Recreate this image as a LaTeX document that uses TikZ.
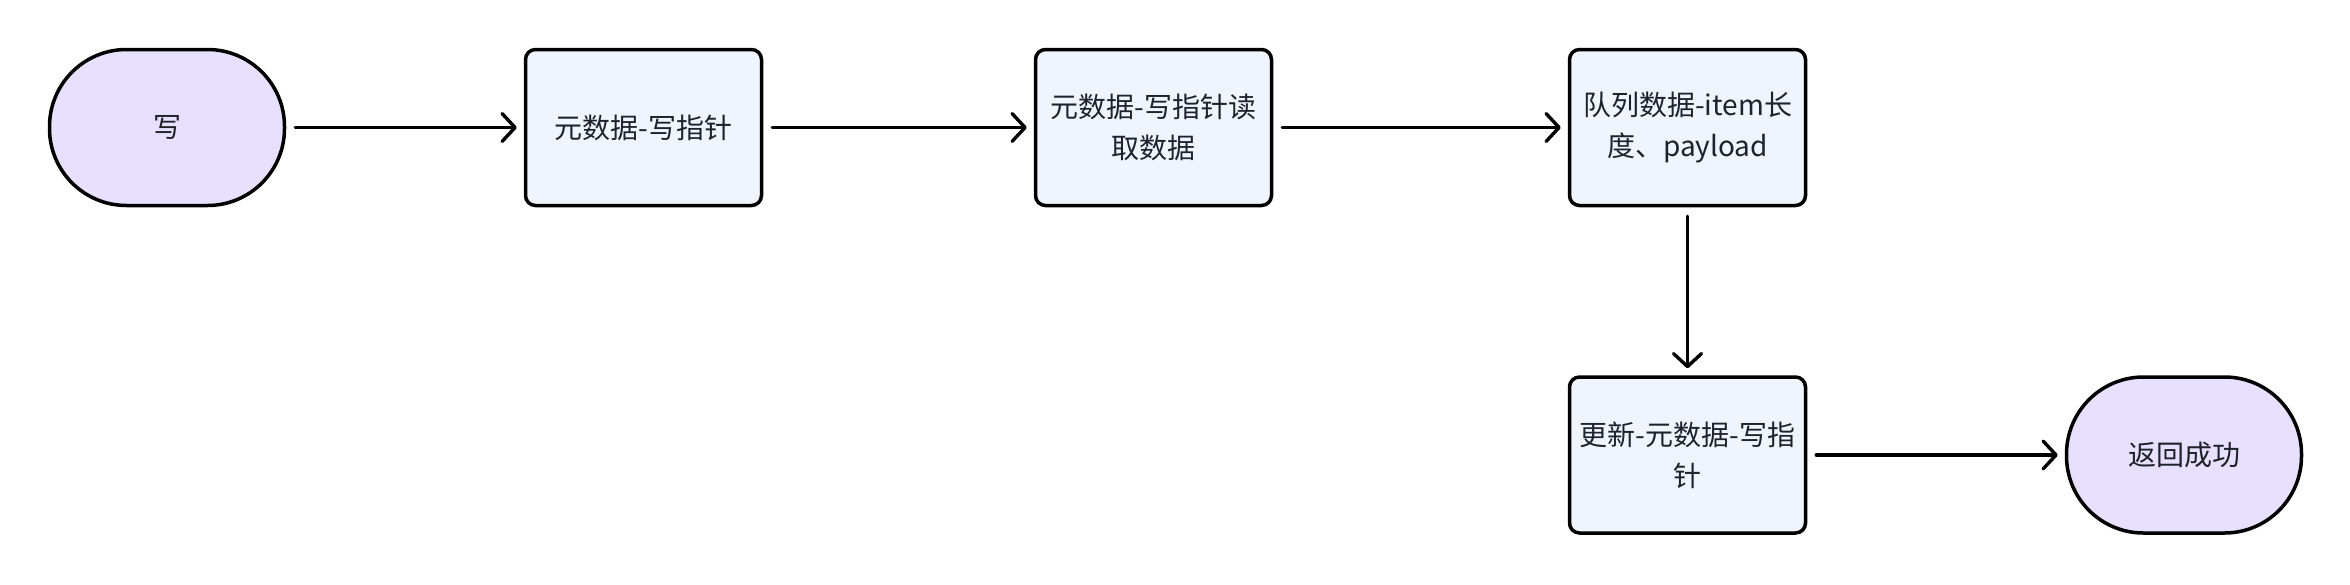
\documentclass[tikz,border=0pt]{standalone}
\usepackage{fontspec}
\setmainfont{Noto Sans CJK SC}
\usetikzlibrary{arrows.meta}
\definecolor{procfill}{HTML}{EFF4FD}
\definecolor{termfill}{HTML}{E8E0FF}
\definecolor{txt}{HTML}{1F2329}
\tikzset{
  procbox/.style={draw=black, line width=3.5pt, fill=procfill, rounded corners=10pt,
    minimum width=236pt, minimum height=156pt, inner sep=0pt, align=center,
    text=txt, font=\fontsize{28}{41}\selectfont},
  termbox/.style={procbox, fill=termfill, rounded corners=77pt, minimum width=235pt},
  arr/.style={draw=black, line width=3.4pt, line cap=round,
    -{Straight Barb[length=13pt,width=28pt,line cap=round,line join=round]},
    shorten <=9pt, shorten >=7pt}
}
\begin{document}
\begin{tikzpicture}[x=1pt,y=1pt]
\useasboundingbox (0,0) rectangle (2350,-584);
\node[termbox] (s) at (167,-127.5) {写};
\node[procbox] (b1) at (643.5,-127.5) {元数据-写指针};
\node[procbox] (b2) at (1153.5,-127.5) {元数据-写指针读\\取数据};
\node[procbox] (b3) at (1687.5,-127.5) {队列数据-item长\\度、payload};
\node[procbox] (b4) at (1687.5,-455) {更新-元数据-写指\\针};
\node[termbox] (e) at (2184,-455) {返回成功};
\draw[arr] (s) -- (b1);
\draw[arr] (b1) -- (b2);
\draw[arr] (b2) -- (b3);
\draw[arr] (b3) -- (b4);
\draw[arr] (b4) -- (e);
\end{tikzpicture}
\end{document}
